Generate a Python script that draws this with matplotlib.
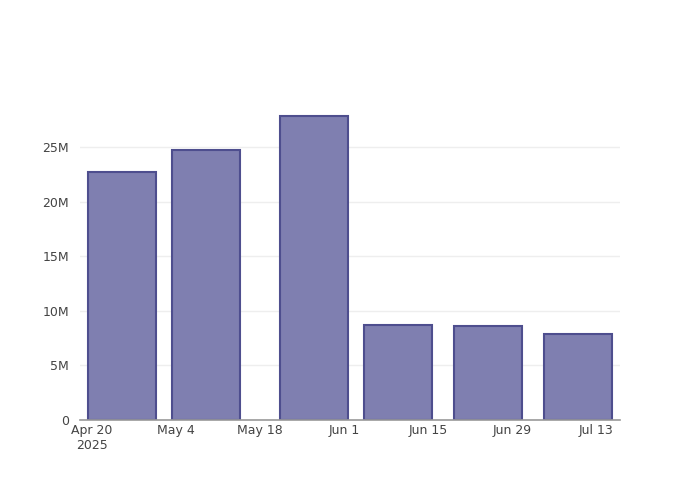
import matplotlib
matplotlib.use("Agg")
import matplotlib.pyplot as plt
import matplotlib.dates as mdates
import numpy as np
import datetime as dt

dates = ["2025-04-25", "2025-05-09", "2025-05-27", "2025-06-10", "2025-06-25", "2025-07-10"]
values = [22.74e6, 24.73e6, 27.87e6, 8.70e6, 8.61e6, 7.85e6]
xtick_dates = ["2025-04-20", "2025-05-04", "2025-05-18", "2025-06-01", "2025-06-15", "2025-06-29", "2025-07-13"]
xtick_labels = ["Apr 20\n2025", "May 4", "May 18", "Jun 1", "Jun 15", "Jun 29", "Jul 13"]
ytick_vals = [0, 5e6, 10e6, 15e6, 20e6, 25e6]
ytick_labels = ["0", "5M", "10M", "15M", "20M", "25M"]

plt.rcParams['font.family'] = ['DejaVu Sans']
fig = plt.figure(figsize=(7, 5), dpi=100)
ax = fig.add_axes([80/700, 80/500, 540/700, 320/500])

x = [mdates.date2num(dt.date.fromisoformat(d)) for d in dates]
ax.bar(x, values, width=11.2, color="#7f7fb0", edgecolor="#4e4e8e", linewidth=1.5, zorder=3)

x0 = mdates.date2num(dt.date(2025, 4, 20))
ax.set_xlim(x0 - 2, x0 + 88)
ax.set_ylim(0, 29.3e6)

ax.set_xticks([mdates.date2num(dt.date.fromisoformat(d)) for d in xtick_dates])
ax.set_xticklabels(xtick_labels)
ax.set_yticks(ytick_vals)
ax.set_yticklabels(ytick_labels)
ax.tick_params(axis='both', length=0, labelsize=9, labelcolor="#444444")
ax.tick_params(axis='x', pad=3)
ax.tick_params(axis='y', pad=8)
for lbl in ax.get_xticklabels():
    lbl.set_horizontalalignment('center')

ax.grid(axis='y', color="#eeeeee", linewidth=1, zorder=0)
ax.set_axisbelow(True)
for s in ['top', 'right', 'left']:
    ax.spines[s].set_visible(False)
ax.spines['bottom'].set_color("#999999")
ax.spines['bottom'].set_linewidth(1.2)
ax.spines['bottom'].set_zorder(4)

fig.savefig("out.png", dpi=100)
